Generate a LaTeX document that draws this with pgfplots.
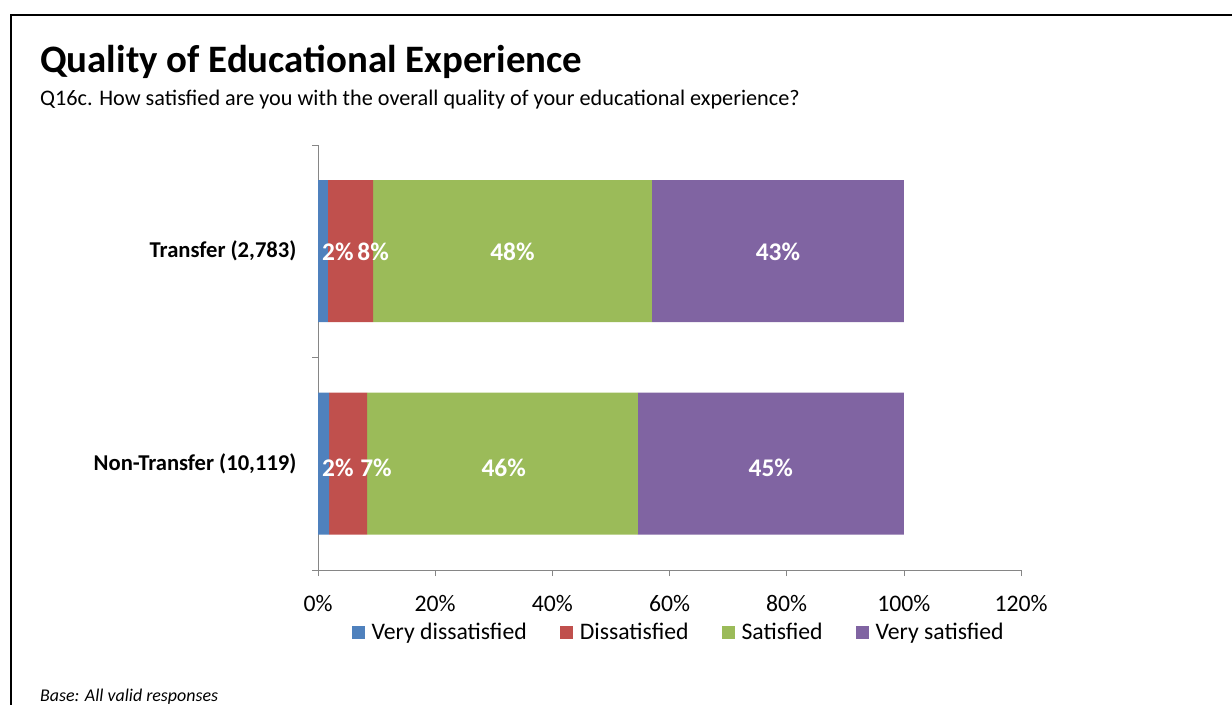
\documentclass[border=0pt]{standalone}
\usepackage{pgfplots}
\pgfplotsset{compat=1.18}
\usepackage{fontspec}
\setmainfont{Carlito}
\definecolor{vdis}{HTML}{4F81BD}
\definecolor{dis}{HTML}{C0504D}
\definecolor{sat}{HTML}{9BBB59}
\definecolor{vsat}{HTML}{8064A2}
\definecolor{axgray}{HTML}{868686}
\begin{document}
\begin{tikzpicture}
\useasboundingbox (0bp,0bp) rectangle (1232bp,705bp);
\draw[line width=2bp] (11bp,0bp) -- (11bp,690bp) -- (1232bp,690bp);
\node[anchor=base west, inner sep=0pt, font=\fontsize{39}{44}\selectfont\bfseries] at (40bp,632bp) {Quality of Educational Experience};
\node[anchor=base west, inner sep=0pt, font=\fontsize{22.3}{26}\selectfont] at (40bp,599bp) {Q16c. How satisfied are you with the overall quality of your educational experience?};
\node[anchor=base west, inner sep=0pt, font=\fontsize{18}{22}\selectfont\itshape] at (40bp,4bp) {Base: All valid responses};
\begin{axis}[
    at={(318bp,135bp)}, anchor=south west,
    scale only axis, width=703bp, height=425bp,
    xbar stacked, bar width=142bp,
    xmin=0, xmax=120, ymin=-0.5, ymax=1.5,
    axis x line=bottom, axis y line=left,
    axis line style={-, draw=axgray},
    tick align=outside,
    xtick={0,20,...,120},
    xticklabel={\pgfmathprintnumber{\tick}\%},
    major tick length=6bp, minor tick length=6bp,
    every tick/.style={axgray},
    major y tick style={draw=none},
    ytick={0,1},
    minor ytick={-0.5,0.5,1.5},
    yticklabels={{Non-Transfer (10,119)},{Transfer (2,783)}},
    yticklabel style={font=\fontsize{22.7}{26}\selectfont\bfseries, xshift=-12bp},
    xticklabel style={font=\fontsize{23.8}{27}\selectfont, yshift=-16bp},
    /pgf/number format/assume math mode=true,
    legend style={at={(0.513,-0.115)}, anchor=north, draw=none,
        legend columns=4, font=\fontsize{23.8}{27}\selectfont,
        /tikz/every even column/.append style={column sep=31bp}},
    legend image code/.code={\fill[#1] (0bp,-6.5bp) rectangle (13bp,6.5bp); \path (18bp,0bp);},
]
\addplot[fill=vdis, draw=none] coordinates {(1.7,1) (1.9,0)};
\addplot[fill=dis, draw=none] coordinates {(7.7,1) (6.5,0)};
\addplot[fill=sat, draw=none] coordinates {(47.6,1) (46.2,0)};
\addplot[fill=vsat, draw=none] coordinates {(43.0,1) (45.4,0)};
\legend{Very dissatisfied, Dissatisfied, Satisfied, Very satisfied}
\end{axis}
\begin{axis}[
    at={(318bp,135bp)}, anchor=south west,
    scale only axis, width=703bp, height=425bp,
    xmin=0, xmax=120, ymin=-0.5, ymax=1.5,
    hide axis,
]
\addplot[draw=none, mark=none, nodes near coords, point meta=explicit symbolic,
    nodes near coords align=center,
    every node near coord/.append style={text=white, font=\fontsize{25.5}{30}\selectfont\bfseries}]
    coordinates {
    (3.4,0.995) [2\%] (9.4,0.995) [8\%] (33.2,0.995) [48\%] (78.5,0.995) [43\%]
    (3.4,-0.02) [2\%] (9.9,-0.02) [7\%] (31.7,-0.02) [46\%] (77.3,-0.02) [45\%]
    };
\end{axis}
\end{tikzpicture}
\end{document}
